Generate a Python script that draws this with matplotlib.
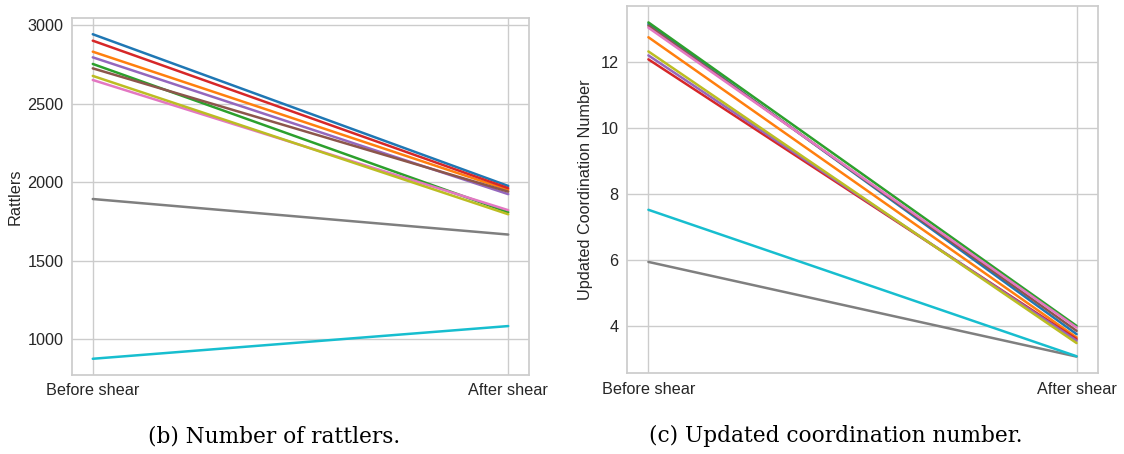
import matplotlib
matplotlib.use("Agg")
import matplotlib.pyplot as plt
import seaborn as sns

sns.set_style("whitegrid")
plt.rcParams["font.family"] = ["Liberation Sans", "DejaVu Sans"]

stages = ["Before shear", "After shear"]

# Rattler counts per sample (before, after)
rattlers_before = [2941, 2830, 2752, 2900, 2794, 2724, 2650, 1893, 2676, 877]
rattlers_after = [1976, 1951, 1809, 1962, 1924, 1940, 1822, 1667, 1796, 1085]

# Updated coordination number per sample (before, after)
coord_before = [13.15, 12.75, 13.20, 12.08, 12.20, 13.10, 13.04, 5.94, 12.32, 7.52]
coord_after = [3.75, 3.65, 4.00, 3.60, 3.55, 3.85, 3.95, 3.07, 3.48, 3.08]

tab10 = ["#1f77b4", "#ff7f0e", "#2ca02c", "#d62728", "#9467bd",
         "#8c564b", "#e377c2", "#7f7f7f", "#bcbd22", "#17becf"]

W, H = 1124, 454
fig = plt.figure(figsize=(W / 100, H / 100), dpi=100)

ax1 = fig.add_axes([72 / W, 1 - 375 / H, 457 / W, 357 / H])
ax2 = fig.add_axes([627 / W, 1 - 373.3 / H, 471 / W, 367.6 / H])

text_color = "#262626"

for ax, before, after, ylabel, lx in [
    (ax1, rattlers_before, rattlers_after, "Rattlers", -0.109),
    (ax2, coord_before, coord_after, "Updated Coordination Number", -0.072),
]:
    for i, (b, a) in enumerate(zip(before, after)):
        ax.plot([0, 1], [b, a], color=tab10[i], linewidth=1.8)
    ax.set_xticks([0, 1])
    ax.set_xticklabels(stages)
    ax.tick_params(axis="both", labelsize=11.7, colors=text_color, length=0, pad=6)
    ax.set_ylabel(ylabel, fontsize=11.7, color=text_color)
    ax.yaxis.set_label_coords(lx, 0.5)
    for s in ax.spines.values():
        s.set_color("#cccccc")
        s.set_linewidth(1.25)
    ax.grid(color="#cccccc", linewidth=1.0)

ax1.set_yticks([1000, 1500, 2000, 2500, 3000])
ax2.set_yticks([4, 6, 8, 10, 12])

fig.text(274 / W, 1 - 436 / H, "(b) Number of rattlers.", ha="center", va="center",
         fontsize=15.6, family="DejaVu Serif", color="black")
fig.text(836 / W, 1 - 436 / H, "(c) Updated coordination number.", ha="center", va="center",
         fontsize=15.6, family="DejaVu Serif", color="black")

fig.savefig("out.png", dpi=100)
